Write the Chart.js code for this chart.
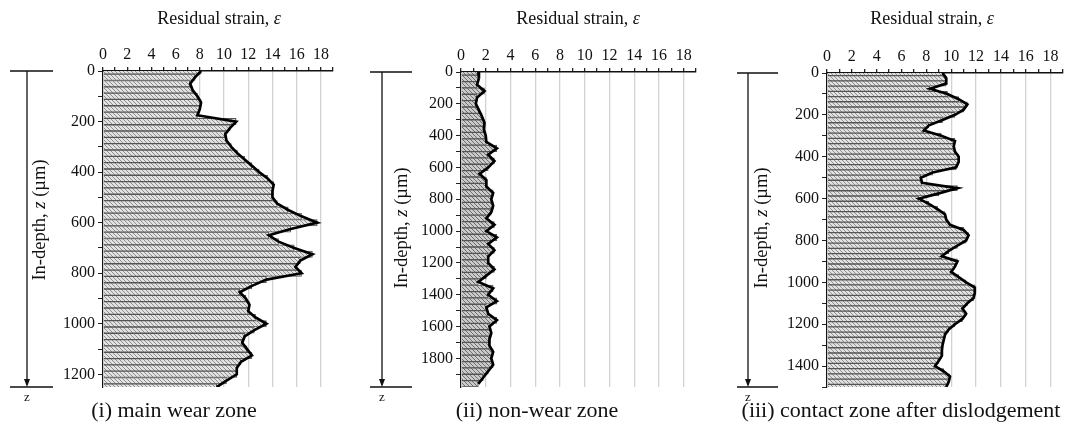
<!DOCTYPE html>
<html>
<head>
<meta charset="utf-8">
<script src="https://cdn.jsdelivr.net/npm/chart.js@4"></script>
<style>
  body { margin: 0; background: #fff; }
  #wrap { position: relative; width: 1067px; height: 434px; }
  canvas { position: absolute; top: 0; }
</style>
</head>
<body>
<div id="wrap">
  <canvas id="c1" width="355" height="434" style="left:0px"></canvas>
  <canvas id="c2" width="355" height="434" style="left:355px"></canvas>
  <canvas id="c3" width="357" height="434" style="left:710px"></canvas>
</div>
<script>
// (i) main wear zone
const depth1 = [0, 25, 50, 75, 100, 125, 150, 175, 200, 225, 250, 275, 300, 325, 350, 375, 400, 425, 450, 475,
  500, 525, 550, 575, 600, 625, 650, 675, 700, 725, 750, 775, 800, 825, 850, 875, 900, 925, 950, 975,
  1000, 1025, 1050, 1075, 1100, 1125, 1150, 1175, 1200, 1225, 1250];
const strain1 = [8.1, 7.6, 7.2, 7.4, 7.8, 8.1, 8.0, 7.8, 11.0, 10.5, 10.1, 10.2, 10.6, 11.1, 11.7, 12.3, 12.9, 13.6, 14.1, 14.0,
  14.0, 14.4, 15.3, 16.4, 17.7, 15.5, 13.7, 14.5, 15.8, 17.3, 16.3, 15.9, 16.4, 13.5, 12.3, 11.3, 11.8, 12.1, 12.0, 12.6,
  13.5, 12.5, 11.7, 11.5, 11.9, 12.3, 11.4, 11.05, 11.05, 10.2, 9.4];

// (ii) non-wear zone
const depth2 = [0, 40, 80, 120, 160, 200, 240, 280, 320, 360, 400, 440, 480, 520, 560, 600, 640, 680, 720, 760,
  800, 840, 880, 920, 960, 1000, 1040, 1080, 1120, 1160, 1200, 1240, 1280, 1320, 1360, 1400, 1440, 1480, 1520, 1560,
  1600, 1640, 1680, 1720, 1760, 1800, 1840, 1880, 1920, 1960];
const strain2 = [1.4, 1.45, 1.3, 1.9, 1.3, 1.2, 1.45, 1.7, 1.9, 1.85, 2.0, 2.05, 2.9, 2.2, 2.7, 2.2, 1.5, 2.05, 2.05, 2.6,
  2.45, 2.6, 2.45, 2.05, 2.7, 2.05, 2.9, 2.2, 2.7, 2.2, 2.2, 2.7, 2.05, 1.4, 2.6, 2.2, 2.9, 2.05, 2.2, 2.9,
  2.3, 2.45, 2.3, 2.3, 2.6, 2.45, 2.6, 2.2, 1.8, 1.4];

// (iii) contact zone after dislodgement
const depth3 = [0, 25, 50, 75, 100, 125, 150, 175, 200, 225, 250, 275, 300, 325, 350, 375, 400, 425, 450, 475,
  500, 525, 550, 575, 600, 625, 650, 675, 700, 725, 750, 775, 800, 825, 850, 875, 900, 925, 950, 975,
  1000, 1025, 1050, 1075, 1100, 1125, 1150, 1175, 1200, 1225, 1250, 1275, 1300, 1325, 1350, 1375, 1400, 1425, 1450, 1475, 1500];
const strain3 = [9.3, 9.6, 9.6, 8.3, 9.7, 10.6, 11.3, 11.0, 10.3, 9.3, 8.2, 7.8, 9.2, 10.3, 10.2, 10.3, 10.6, 10.6, 10.4, 8.5,
  7.55, 7.65, 10.5, 9.0, 7.4, 8.2, 8.9, 9.5, 9.6, 9.9, 11.0, 11.4, 11.2, 10.5, 9.8, 9.25, 10.5, 10.3, 10.0, 10.6,
  11.2, 11.9, 11.9, 11.8, 11.3, 10.9, 11.2, 10.9, 10.3, 9.8, 9.5, 9.4, 9.3, 9.25, 9.25, 9.0, 8.7, 9.4, 9.9, 9.8, 9.6];

const SERIF = '"Liberation Serif", "DejaVu Serif", serif';

function hatch(base, line) {
  const c = document.createElement('canvas');
  c.width = 4; c.height = 4;
  const g = c.getContext('2d');
  g.fillStyle = base;
  g.fillRect(0, 0, 4, 4);
  g.strokeStyle = line;
  g.lineWidth = 1;
  g.beginPath();
  g.moveTo(-1, -1); g.lineTo(5, 5);
  g.stroke();
  return g.createPattern(c, 'repeat');
}

// text with an italic part, drawn centred at (x, y)
function mixedText(ctx, parts, x, y, size) {
  let w = 0;
  parts.forEach(p => {
    ctx.font = (p[1] ? 'italic ' : '') + size + 'px ' + SERIF;
    w += ctx.measureText(p[0]).width;
  });
  let cx = x - w / 2;
  ctx.textAlign = 'left';
  ctx.textBaseline = 'middle';
  parts.forEach(p => {
    ctx.font = (p[1] ? 'italic ' : '') + size + 'px ' + SERIF;
    ctx.fillText(p[0], cx, y);
    cx += ctx.measureText(p[0]).width;
  });
}

const decor = {
  id: 'decor',
  afterDraw(chart, args, o) {
    const ctx = chart.ctx;
    const a = chart.chartArea;
    ctx.save();
    ctx.strokeStyle = '#111';
    ctx.fillStyle = '#111';
    ctx.lineWidth = 1.3;
    // depth arrow on the left
    ctx.beginPath();
    ctx.moveTo(o.lineL, a.top); ctx.lineTo(o.lineR, a.top);
    ctx.moveTo(o.lineL, a.bottom); ctx.lineTo(o.lineR, a.bottom);
    ctx.moveTo(o.arrowX, a.top); ctx.lineTo(o.arrowX, a.bottom - 6);
    ctx.stroke();
    ctx.beginPath();
    ctx.moveTo(o.arrowX - 3, a.bottom - 8);
    ctx.lineTo(o.arrowX + 3, a.bottom - 8);
    ctx.lineTo(o.arrowX, a.bottom);
    ctx.closePath();
    ctx.fill();
    ctx.font = '13px ' + SERIF;
    ctx.textAlign = 'center';
    ctx.textBaseline = 'middle';
    ctx.fillText('z', o.arrowX, a.bottom + 11);

    // axis titles
    mixedText(ctx, [['Residual strain, ', false], ['ε', true]], o.titleX, 19, 18);
    ctx.save();
    ctx.translate(o.yTitleX, o.yTitleY);
    ctx.rotate(-Math.PI / 2);
    mixedText(ctx, [['In-depth, ', false], ['z', true], [' (µm)', false]], 0, 0, 18.5);
    ctx.restore();

    // caption
    ctx.font = '22px ' + SERIF;
    ctx.textAlign = 'center';
    ctx.textBaseline = 'middle';
    ctx.fillText(o.caption, o.captionX, 411);
    ctx.restore();
  }
};

function makePanel(id, depth, strain, yMax, box, deco, fill) {
  const bars = depth.map((d, i) => ({ x: strain[i], y: d }));
  new Chart(document.getElementById(id), {
    type: 'bar',
    data: {
      datasets: [
        {
          type: 'line',
          data: bars,
          borderColor: '#000',
          borderWidth: 2.7,
          pointRadius: 0,
          tension: 0,
          order: 0
        },
        {
          type: 'bar',
          data: bars,
          backgroundColor: fill,
          borderColor: '#555',
          borderWidth: 1,
          borderSkipped: 'start',
          barPercentage: 1,
          categoryPercentage: 1,
          order: 1
        }
      ]
    },
    options: {
      indexAxis: 'y',
      responsive: false,
      animation: false,
      events: [],
      layout: { padding: { left: 0, top: 0, right: box.right, bottom: 47 } },
      scales: {
        x: {
          type: 'linear',
          position: 'top',
          min: 0,
          max: 19,
          ticks: {
            stepSize: 1,
            autoSkip: false,
            maxRotation: 0,
            padding: 3,
            color: '#111',
            font: { family: SERIF, size: 16 },
            callback: v => (v % 2 === 0 && v <= 18) ? v : ''
          },
          grid: {
            color: c => (c.tick && c.tick.value % 2 === 0 && c.tick.value > 0) ? '#d2d2d2' : 'rgba(0,0,0,0)',
            tickColor: '#222',
            tickLength: 4,
            lineWidth: 1.3
          },
          border: { color: '#111', width: 1.5 },
          afterFit: s => { s.height = box.top; }
        },
        y: {
          type: 'linear',
          reverse: true,
          offset: false,
          min: 0,
          max: yMax,
          ticks: {
            autoSkip: false,
            padding: 3,
            color: '#111',
            font: { family: SERIF, size: 16 },
            callback: v => v % 200 === 0 ? v : ''
          },
          grid: { drawOnChartArea: false, offset: false, color: '#222', tickLength: 5 },
          border: { color: '#111', width: 1.2 },
          afterBuildTicks: s => {
            const t = [];
            for (let v = 0; v <= yMax; v += 100) t.push({ value: v });
            s.ticks = t;
          },
          afterFit: s => { s.width = box.left; }
        }
      },
      plugins: {
        legend: { display: false },
        tooltip: { enabled: false },
        decor: deco
      }
    },
    plugins: [decor]
  });
}

makePanel('c1', depth1, strain1, 1250, { left: 103, top: 71, right: 22 },
  { arrowX: 27, lineL: 10, lineR: 53, titleX: 219, yTitleX: 40, yTitleY: 220,
    caption: '(i) main wear zone', captionX: 174 },
  hatch('#e2e2e2', '#8e8e8e'));

makePanel('c2', depth2, strain2, 1980, { left: 106, top: 72, right: 14 },
  { arrowX: 27, lineL: 15, lineR: 57, titleX: 223, yTitleX: 47, yTitleY: 228,
    caption: '(ii) non-wear zone', captionX: 182 },
  hatch('#cbcbcb', '#6e6e6e'));

makePanel('c3', depth3, strain3, 1500, { left: 117, top: 73, right: 4 },
  { arrowX: 38, lineL: 27, lineR: 68, titleX: 222, yTitleX: 52, yTitleY: 228,
    caption: '(iii) contact zone after dislodgement', captionX: 191 },
  hatch('#e2e2e2', '#8e8e8e'));
</script>
</body>
</html>
